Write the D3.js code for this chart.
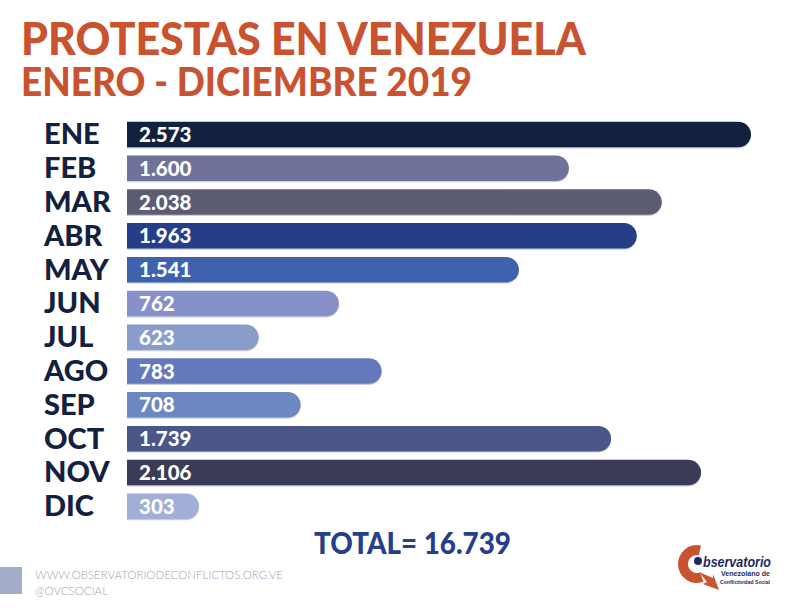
<!DOCTYPE html>
<html>
<head>
<meta charset="utf-8">
<script src="https://cdn.jsdelivr.net/npm/d3@7"></script>
<style>
  html, body { margin: 0; padding: 0; background: #ffffff; }
  svg { display: block; }
</style>
</head>
<body>
<div id="chart"></div>
<script>
// ---- data ----
const months = ["ENE","FEB","MAR","ABR","MAY","JUN","JUL","AGO","SEP","OCT","NOV","DIC"];
const protests = [2573, 1600, 2038, 1963, 1541, 762, 623, 783, 708, 1739, 2106, 303];
const valueLabels = ["2.573","1.600","2.038","1.963","1.541","762","623","783","708","1.739","2.106","303"];
// bar lengths as drawn in the infographic (same units as protests)
const barLengths = [2573, 1822, 2205, 2102, 1616, 874, 543, 1050, 716, 1996, 2367, 297];
const barColors = ["#14213e","#6f7299","#5c5c73","#263e88","#3e62ad","#8591c8","#889dca","#6479bb","#6c88c0","#4a5685","#393b57","#a3aed6"];
const totalLabel = "TOTAL= 16.739";
const title1 = "PROTESTAS EN VENEZUELA";
const title2 = "ENERO - DICIEMBRE 2019";
const footer1 = "WWW.OBSERVATORIODECONFLICTOS.ORG.VE";
const footer2 = "@OVCSOCIAL";

const W = 792, H = 612;
const svg = d3.select("#chart").append("svg").attr("width", W).attr("height", H);

// titles
const orange = "#c9522f";
svg.append("text").attr("x", 21).attr("y", 55)
  .attr("font-family", "Lato").attr("font-weight", 900).attr("font-size", 46)
  .attr("fill", orange).attr("textLength", 565).attr("lengthAdjust", "spacingAndGlyphs")
  .text(title1);
svg.append("text").attr("x", 21).attr("y", 96)
  .attr("font-family", "Lato").attr("font-weight", 900).attr("font-size", 39)
  .attr("fill", orange).attr("textLength", 451).attr("lengthAdjust", "spacingAndGlyphs")
  .text(title2);

// scales
const x = d3.scaleLinear().domain([0, 2573]).range([127, 751]);
const y = d3.scaleBand().domain(months).range([121.7, 519]).paddingInner(0.245).paddingOuter(0);
const bh = y.bandwidth();
const r = bh / 2;

function barPath(x0, y0, x1, h) {
  const rr = Math.min(h / 2, x1 - x0);
  return `M${x0},${y0}H${x1 - rr}A${rr},${rr} 0 0 1 ${x1},${y0 + rr}V${y0 + h - rr}A${rr},${rr} 0 0 1 ${x1 - rr},${y0 + h}H${x0}Z`;
}

const rows = months.map((m, i) => ({ m, v: protests[i], len: barLengths[i], label: valueLabels[i], c: barColors[i] }));

const g = svg.append("g");
// subtle light edge under bars
g.selectAll("path.shadow").data(rows).enter().append("path")
  .attr("class", "shadow")
  .attr("d", d => barPath(x(0), y(d.m) + 1.2, x(d.len), bh))
  .attr("fill", "#c9cde0");
g.selectAll("path.bar").data(rows).enter().append("path")
  .attr("class", "bar")
  .attr("d", d => barPath(x(0), y(d.m), x(d.len), bh))
  .attr("fill", d => d.c);

// month labels
g.selectAll("text.month").data(rows).enter().append("text")
  .attr("class", "month")
  .attr("x", 44).attr("y", d => y(d.m) + bh / 2 + 10)
  .attr("font-family", "Lato").attr("font-weight", 900).attr("font-size", 29)
  .attr("fill", "#14213e")
  .text(d => d.m);

// value labels
g.selectAll("text.val").data(rows).enter().append("text")
  .attr("class", "val")
  .attr("x", 139).attr("y", d => y(d.m) + bh / 2 + 7.5)
  .attr("font-family", "Lato").attr("font-weight", 900).attr("font-size", 20.5)
  .attr("fill", "#ffffff")
  .text(d => d.label);

// total
svg.append("text").attr("x", 314).attr("y", 554)
  .attr("font-family", "Lato").attr("font-weight", 900).attr("font-size", 30)
  .attr("fill", "#263f8c").attr("textLength", 197).attr("lengthAdjust", "spacingAndGlyphs")
  .text(totalLabel);

// footer
svg.append("rect").attr("x", 0).attr("y", 567).attr("width", 22).attr("height", 27).attr("fill", "#a3acc8");
svg.append("text").attr("x", 35).attr("y", 579)
  .attr("font-family", "Lato").attr("font-weight", 300).attr("font-size", 12.5)
  .attr("fill", "#9ea2b0").attr("textLength", 248).attr("lengthAdjust", "spacingAndGlyphs")
  .text(footer1);
svg.append("text").attr("x", 35).attr("y", 595)
  .attr("font-family", "Lato").attr("font-weight", 300).attr("font-size", 12.5)
  .attr("fill", "#9ea2b0").attr("textLength", 73).attr("lengthAdjust", "spacingAndGlyphs")
  .text(footer2);

// logo
const logo = svg.append("g").attr("transform", "translate(697,564)");
const arc = d3.arc().innerRadius(9).outerRadius(19)
  .startAngle(160 * Math.PI / 180).endAngle(372 * Math.PI / 180);
logo.append("path").attr("d", arc()).attr("fill", "#c9522f");
logo.append("path").attr("d", "M2,8 L16,14 L16,10 L22,26 L6,20 L10,18 Z").attr("fill", "#c9522f");
logo.append("circle").attr("cx", 1).attr("cy", -3).attr("r", 4).attr("fill", "#1f2a5c");
svg.append("text").attr("x", 703).attr("y", 567)
  .attr("font-family", "Liberation Sans").attr("font-style", "italic").attr("font-weight", 700)
  .attr("font-size", 15).attr("fill", "#1f2a5c").attr("textLength", 68).attr("lengthAdjust", "spacingAndGlyphs")
  .text("bservatorio");
svg.append("text").attr("x", 721).attr("y", 576)
  .attr("font-family", "Liberation Sans").attr("font-weight", 700)
  .attr("font-size", 7).attr("fill", "#1f2a5c").attr("textLength", 49).attr("lengthAdjust", "spacingAndGlyphs")
  .text("Venezolano de");
svg.append("text").attr("x", 720).attr("y", 584)
  .attr("font-family", "Liberation Sans").attr("font-weight", 700)
  .attr("font-size", 5.5).attr("fill", "#1f2a5c").attr("textLength", 50).attr("lengthAdjust", "spacingAndGlyphs")
  .text("Conflictividad Social");
</script>
</body>
</html>
